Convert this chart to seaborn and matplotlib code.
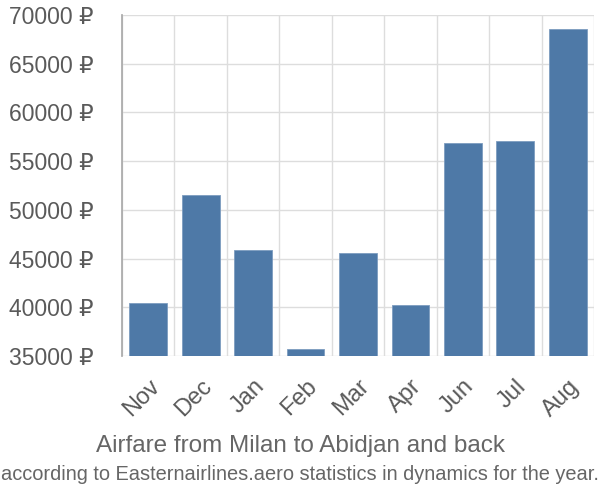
import matplotlib
matplotlib.use("Agg")
import matplotlib.pyplot as plt
import seaborn as sns
import pandas as pd
from matplotlib.ticker import FuncFormatter

months = ["Nov", "Dec", "Jan", "Feb", "Mar", "Apr", "Jun", "Jul", "Aug"]
prices = [40470, 51480, 45850, 35720, 45540, 40190, 56860, 57040, 68530]
yticks = [35000, 40000, 45000, 50000, 55000, 60000, 65000, 70000]
title1 = "Airfare from Milan to Abidjan and back"
title2 = "according to Easternairlines.aero statistics in dynamics for the year."

sns.set_theme(style="white")
plt.rcParams['font.family'] = ['Liberation Sans', 'DejaVu Sans']

df = pd.DataFrame({"month": months, "price": prices})

fig = plt.figure(figsize=(6, 5), dpi=100)
ax = fig.add_axes([122/600, 1-356/500, (594-122)/600, (356-15)/500])

sns.barplot(data=df, x="month", y="price", ax=ax, color="#4e79a7",
            saturation=1, width=0.72, edgecolor="#7d9cc0", linewidth=0.6, zorder=3)

ax.set_ylim(35000, 70000)
ax.set_xlim(-0.5, len(months) - 0.5)
ax.set_yticks(yticks)
ax.yaxis.set_major_formatter(FuncFormatter(lambda v, p: f"{int(v)} ₽"))

# vertical grid at category boundaries
ax.set_xticks([i - 0.5 for i in range(len(months) + 1)], minor=True)
ax.set_xticks(range(len(months)))
ax.set_xticklabels(months, rotation=45, ha="right", rotation_mode="anchor")
ax.grid(which="minor", axis="x", color="#dddddd", linewidth=1, zorder=0)
ax.grid(which="major", axis="y", color="#dddddd", linewidth=1, zorder=0)
ax.tick_params(axis="x", which="major", length=0, pad=14, labelsize=17, labelcolor="#5a5a5a")
ax.tick_params(axis="x", which="minor", length=19, color="#dddddd", width=1)
ax.tick_params(axis="y", length=20, color="#dddddd", width=1, labelsize=16.5,
               labelcolor="#5a5a5a", pad=0.5)

for s in ["top", "right", "bottom"]:
    ax.spines[s].set_visible(False)
ax.spines["left"].set_color("#aaaaaa")
ax.spines["left"].set_bounds(35000, 70000)
ax.set_xlabel("")
ax.set_ylabel("")

fig.text(0.5, 1 - 446/500, title1, ha="center", va="center", fontsize=17.5, color="#666666")
fig.text(0.5, 1 - 475/500, title2, ha="center", va="center", fontsize=14.4, color="#666666")

fig.savefig("out.png", dpi=100)
